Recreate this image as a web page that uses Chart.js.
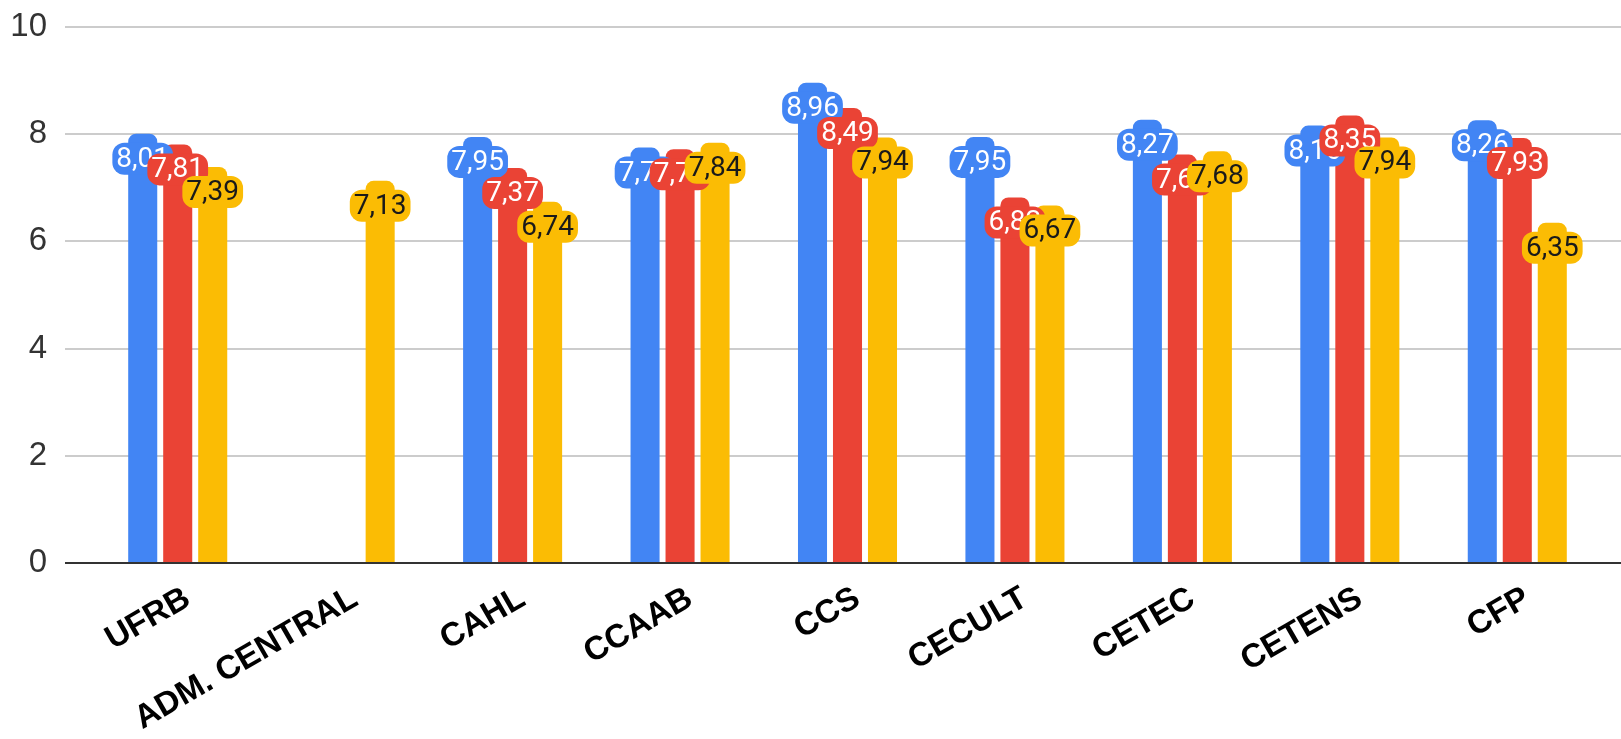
<!DOCTYPE html>
<html>
<head>
<meta charset="utf-8">
<script src="https://cdn.jsdelivr.net/npm/chart.js@4"></script>
<style>
  html, body { margin: 0; padding: 0; background: #fff; }
  #caixa { width: 1621px; height: 739px; position: relative; }
</style>
</head>
<body>
<div id="caixa"><canvas id="grafico"></canvas></div>
<script>
// Dados
const categorias = ['UFRB', 'ADM. CENTRAL', 'CAHL', 'CCAAB', 'CCS', 'CECULT', 'CETEC', 'CETENS', 'CFP'];
const serieAzul = [8.01, null, 7.95, 7.75, 8.96, 7.95, 8.27, 8.16, 8.26];
const serieVermelha = [7.81, null, 7.37, 7.72, 8.49, 6.82, 7.62, 8.35, 7.93];
const serieAmarela = [7.39, 7.13, 6.74, 7.84, 7.94, 6.67, 7.68, 7.94, 6.35];
const ticksY = [0, 2, 4, 6, 8, 10];

const AZUL = '#4285F4', VERMELHO = '#EA4335', AMARELO = '#FBBC04';

// Linhas de grade que passam das bordas da área do gráfico + rótulos de valor
const gradeERotulos = {
    id: 'gradeERotulos',
    beforeDatasetsDraw(chart) {
        const { ctx } = chart;
        const y = chart.scales.y;
        ctx.save();
        ctx.strokeStyle = '#cccccc';
        ctx.lineWidth = 2;
        y.ticks.forEach(t => {
            if (t.value === 0) return;
            const py = Math.round(y.getPixelForValue(t.value));
            ctx.beginPath();
            ctx.moveTo(65, py);
            ctx.lineTo(chart.width, py);
            ctx.stroke();
        });
        ctx.restore();
    },
    afterDatasetsDraw(chart) {
        const { ctx } = chart;
        const y = chart.scales.y;
        ctx.save();
        // eixo no zero
        const p0 = Math.round(y.getPixelForValue(0));
        ctx.strokeStyle = '#333333';
        ctx.lineWidth = 2;
        ctx.beginPath();
        ctx.moveTo(65, p0);
        ctx.lineTo(chart.width, p0);
        ctx.stroke();

        ctx.font = '28px Roboto';
        ctx.textAlign = 'center';
        ctx.textBaseline = 'middle';
        chart.data.datasets.forEach((ds, i) => {
            chart.getDatasetMeta(i).data.forEach((barra, j) => {
                const v = ds.data[j];
                if (v == null) return;
                const txt = v.toFixed(2).replace('.', ',');
                const w = ctx.measureText(txt).width + 8;
                const h = 32;
                const cx = barra.x, cy = barra.y + 25;
                ctx.fillStyle = ds.backgroundColor;
                ctx.beginPath();
                ctx.roundRect(cx - w / 2, cy - h / 2, w, h, 12);
                ctx.fill();
                ctx.fillStyle = ds.corTexto;
                ctx.fillText(txt, cx, cy + 1);
            });
        });
        ctx.restore();
    }
};

function criarSerie(nome, dados, cor, corTexto) {
    return {
        label: nome,
        data: dados,
        backgroundColor: cor,
        corTexto: corTexto,
        borderRadius: { topLeft: 8, topRight: 8 },
        borderSkipped: 'start',
        categoryPercentage: 0.627,
        barPercentage: 0.83
    };
}

new Chart(document.getElementById('grafico').getContext('2d'), {
    type: 'bar',
    data: {
        labels: categorias,
        datasets: [
            criarSerie('Série 1', serieAzul, AZUL, '#ffffff'),
            criarSerie('Série 2', serieVermelha, VERMELHO, '#ffffff'),
            criarSerie('Série 3', serieAmarela, AMARELO, '#1a1a1a')
        ]
    },
    options: {
        responsive: true,
        maintainAspectRatio: false,
        animation: false,
        devicePixelRatio: 1,
        layout: { padding: { top: 27, right: 20, bottom: 0, left: 0 } },
        plugins: {
            legend: { display: false },
            tooltip: { enabled: false }
        },
        scales: {
            x: {
                grid: { display: false, drawTicks: false },
                border: { display: false },
                ticks: {
                    color: '#000000',
                    font: { family: 'Liberation Sans', size: 33, weight: 'bold' },
                    minRotation: 30,
                    maxRotation: 30,
                    labelOffset: 10,
                    padding: 16
                },
                afterFit: (s) => { s.height = 176; }
            },
            y: {
                min: 0,
                max: 10,
                afterBuildTicks: (s) => { s.ticks = ticksY.map(v => ({ value: v })); },
                grid: {
                    display: true,
                    drawOnChartArea: false,
                    drawTicks: true,
                    tickLength: 40,
                    color: 'rgba(0,0,0,0)'
                },
                border: { display: false },
                ticks: {
                    color: '#333333',
                    font: { family: 'Liberation Sans', size: 33 },
                    padding: 7
                },
                afterFit: (s) => { s.width = 94; }
            }
        }
    },
    plugins: [gradeERotulos]
});
</script>
</body>
</html>
